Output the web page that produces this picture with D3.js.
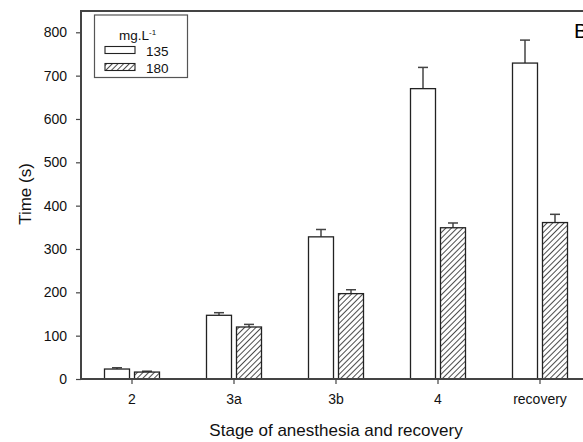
<!DOCTYPE html>
<html>
<head>
<meta charset="utf-8">
<script src="https://cdn.jsdelivr.net/npm/d3@7"></script>
<style>
body { margin: 0; background: #fff; }
svg { display: block; font-family: "Liberation Sans", Arial, sans-serif; }
</style>
</head>
<body>
<svg id="chart" width="583" height="442"></svg>
<script>
// data
var stages = ["2", "3a", "3b", "4", "recovery"];
var doses = ["135", "180"];
var mean135 = [23, 147, 328, 670, 729];
var err135 = [3, 6, 17, 49, 53];
var mean180 = [16, 120, 197, 349, 361];
var err180 = [2, 6, 9, 11, 19];
var yTicks = [0, 100, 200, 300, 400, 500, 600, 700, 800];

var svg = d3.select("#chart");
var mLeft = 81, mTop = 11, mBottom = 379, mRight = 591;
var fnt = "'Liberation Sans', Arial, sans-serif";

var x = d3.scaleBand().domain(stages).range([mLeft, mRight]).paddingInner(0).paddingOuter(0);
var xSub = d3.scaleBand().domain(doses).range([-27.5, 27.5]).paddingInner(1/6);
var y = d3.scaleLinear().domain([0, 800]).range([mBottom, 32.3]);

// hatch pattern
var defs = svg.append("defs");
var pat = defs.append("pattern")
	.attr("id", "hatch")
	.attr("patternUnits", "userSpaceOnUse")
	.attr("width", 4).attr("height", 4)
	.attr("patternTransform", "rotate(45)");
pat.append("rect").attr("width", 4).attr("height", 4).attr("fill", "#fff");
pat.append("line")
	.attr("x1", 0).attr("y1", 0).attr("x2", 0).attr("y2", 4)
	.attr("stroke", "#111").attr("stroke-width", 1.5);

var rows = [];
for (var i = 0; i < stages.length; i++) {
	rows.push({stage: stages[i], dose: "135", v: mean135[i], e: err135[i]});
	rows.push({stage: stages[i], dose: "180", v: mean180[i], e: err180[i]});
}

function bx(d) { return x(d.stage) + x.bandwidth() / 2 + xSub(d.dose); }

// error bars (up only)
var eb = svg.append("g");
eb.selectAll("line.v").data(rows).enter().append("line")
	.attr("x1", d => bx(d) + xSub.bandwidth() / 2)
	.attr("x2", d => bx(d) + xSub.bandwidth() / 2)
	.attr("y1", d => y(d.v))
	.attr("y2", d => y(d.v + d.e))
	.attr("stroke", "#444").attr("stroke-width", 1.5);
eb.selectAll("line.c").data(rows).enter().append("line")
	.attr("x1", d => bx(d) + xSub.bandwidth() / 2 - 5)
	.attr("x2", d => bx(d) + xSub.bandwidth() / 2 + 5)
	.attr("y1", d => y(d.v + d.e))
	.attr("y2", d => y(d.v + d.e))
	.attr("stroke", "#444").attr("stroke-width", 1.5);

// bars
svg.append("g").selectAll("rect").data(rows).enter().append("rect")
	.attr("x", d => bx(d))
	.attr("y", d => y(d.v))
	.attr("width", xSub.bandwidth())
	.attr("height", d => y(0) - y(d.v))
	.attr("fill", d => d.dose == "135" ? "#fff" : "url(#hatch)")
	.attr("stroke", "#222")
	.attr("stroke-width", 1.3);

// axes
var yAxis = svg.append("g")
	.attr("transform", "translate(" + mLeft + ",0)")
	.call(d3.axisLeft(y).tickValues(yTicks).tickSize(5).tickSizeOuter(0).tickPadding(9));
var xAxis = svg.append("g")
	.attr("transform", "translate(0," + mBottom + ")")
	.call(d3.axisBottom(x).tickSize(5).tickSizeOuter(0).tickPadding(10));
[yAxis, xAxis].forEach(function(a) {
	a.select(".domain").remove();
	a.selectAll("line").attr("stroke", "#444").attr("stroke-width", 1.2);
	a.selectAll("text").attr("fill", "#111").style("font-size", "14px").style("font-family", fnt);
});

// frame
svg.append("path")
	.attr("d", "M" + mLeft + "," + mBottom + "V" + mTop + "H" + mRight + "V" + mBottom + "H" + mLeft)
	.attr("fill", "none").attr("stroke", "#444").attr("stroke-width", 2);

// axis titles
svg.append("text")
	.attr("x", 336).attr("y", 436)
	.attr("text-anchor", "middle")
	.style("font-size", "17px").style("font-family", fnt).attr("fill", "#111")
	.text("Stage of anesthesia and recovery");
svg.append("text")
	.attr("transform", "translate(31,194) rotate(-90)")
	.attr("text-anchor", "middle")
	.style("font-size", "17px").style("font-family", fnt).attr("fill", "#111")
	.text("Time (s)");

// panel letter
svg.append("text").attr("x", 574).attr("y", 38)
	.style("font-size", "21px").style("font-family", fnt).attr("fill", "#000").text("B");

// legend
var lg = svg.append("g");
lg.append("rect").attr("x", 94.5).attr("y", 15).attr("width", 93).attr("height", 62.5)
	.attr("fill", "#fff").attr("stroke", "#555").attr("stroke-width", 1.2);
var lt = lg.append("text").attr("x", 119).attr("y", 40)
	.style("font-size", "13.5px").style("font-family", fnt).attr("fill", "#111");
lt.append("tspan").text("mg.L");
lt.append("tspan").attr("dy", -5).style("font-size", "8px").text("-1");
doses.forEach(function(d, i) {
	lg.append("rect").attr("x", 105).attr("y", 46.5 + i * 17).attr("width", 30).attr("height", 7)
		.attr("fill", i == 0 ? "#fff" : "url(#hatch)").attr("stroke", "#222").attr("stroke-width", 1.1);
	lg.append("text").attr("x", 146).attr("y", 55.5 + i * 17)
		.style("font-size", "13.5px").style("font-family", fnt).attr("fill", "#111").text(d);
});
</script>
</body>
</html>
